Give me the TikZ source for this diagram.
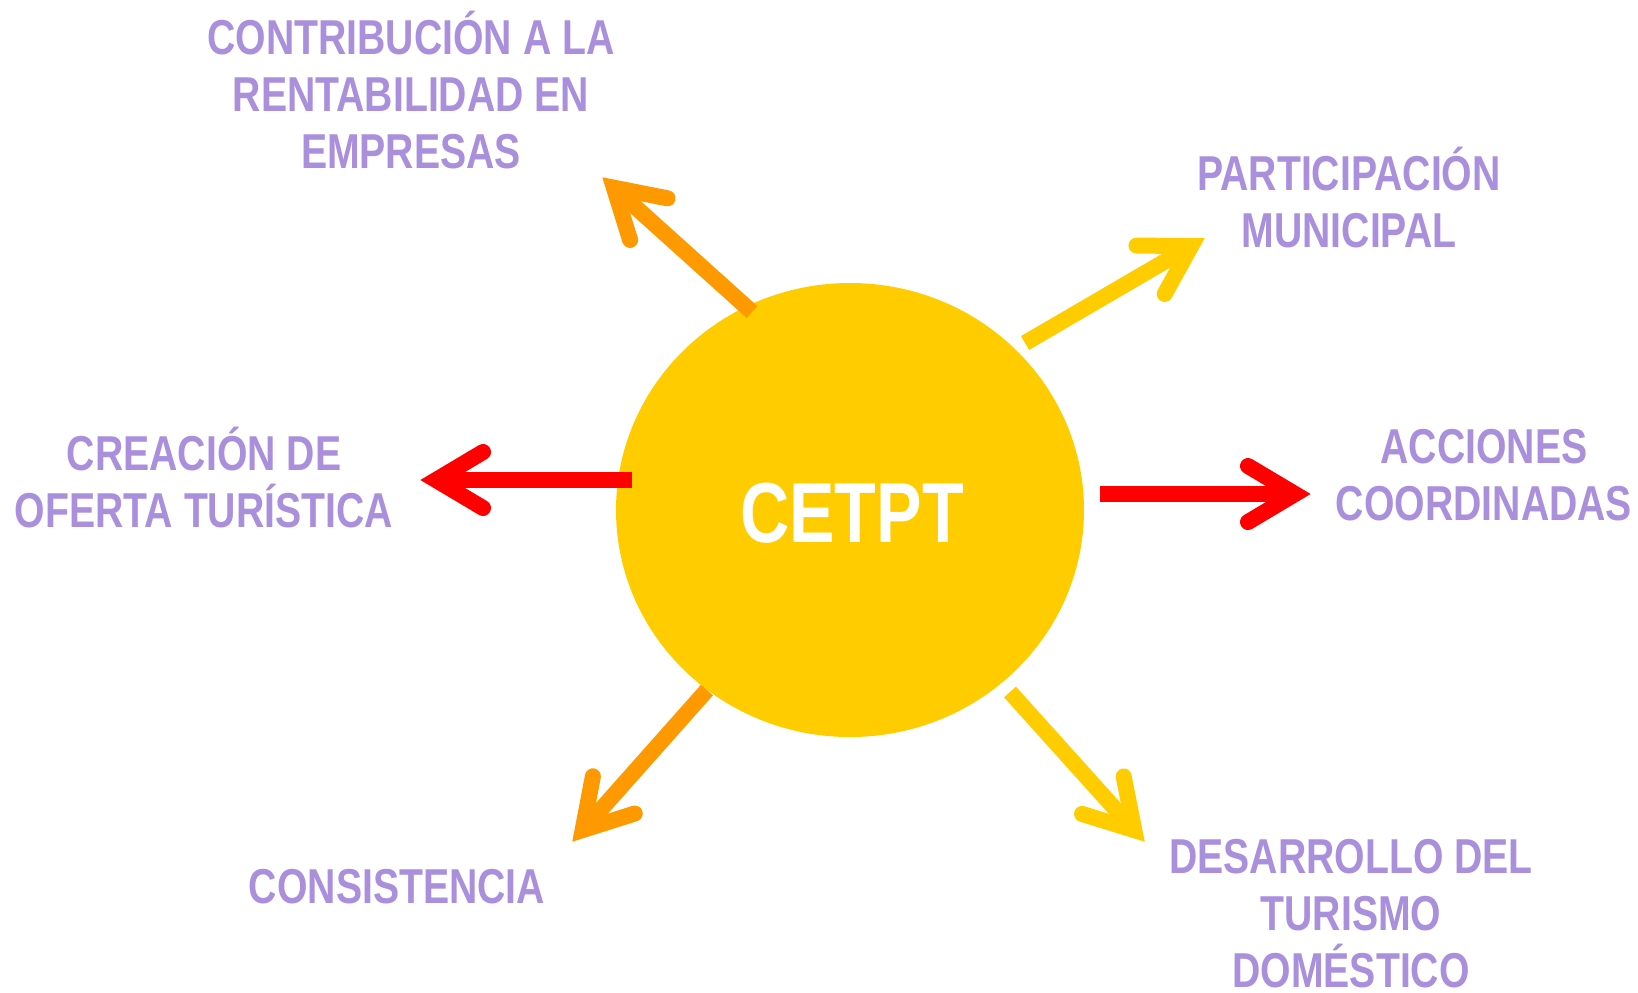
\documentclass[tikz,border=0pt]{standalone}
\usepackage{fontspec}
\newfontfamily\lblfont[FakeStretch=0.8]{Liberation Sans}
\usetikzlibrary{calc}
\definecolor{lav}{RGB}{169,143,220}
\definecolor{sun}{RGB}{255,204,0}
\definecolor{orng}{RGB}{255,153,0}
\definecolor{rd}{RGB}{255,0,0}
\newcommand\fatarrow[3]{%
  \draw[line width=8pt,#1] (#2) -- ($(#3)!8pt!(#2)$);
  \path ($(#3)!8pt!(#2)$) coordinate (V) ($(V)!23.5pt!(#2)$) coordinate (B);
  \draw[line width=8pt,#1,line cap=round,line join=miter,miter limit=10]
    ($(B)!14pt!90:(V)$) -- (V) -- ($(B)!14pt!-90:(V)$);
}
\begin{document}
\begin{tikzpicture}[x=0.5pt,y=-0.5pt,
  lbl/.style={text=lav,font=\lblfont\bfseries\fontsize{24.5}{28.5}\selectfont,align=center,inner sep=0pt,anchor=base}]
\useasboundingbox (0,0) rectangle (1638,992);
\fill[sun] (850,510) ellipse [x radius=234, y radius=227];
\node[inner sep=0pt,anchor=base,text=white,font=\lblfont\bfseries\fontsize{42.6}{48}\selectfont] (c) at (852,542) {CETPT};

\node[lbl] (n1) at (411,168) {CONTRIBUCIÓN A LA\\RENTABILIDAD EN\\EMPRESAS};
\node[lbl] (n2) at (1349,247) {PARTICIPACIÓN\\MUNICIPAL};
\node[lbl] (n3) at (1484,520) {ACCIONES\\COORDINADAS};
\node[lbl] (n4) at (204,527) {CREACIÓN DE\\OFERTA TURÍSTICA};
\node[lbl] (n5) at (397,903) {CONSISTENCIA};
\node[lbl] (n6) at (1351,987) {DESARROLLO DEL\\TURISMO\\DOMÉSTICO};

\coordinate (s1) at (752,312); \coordinate (t1) at (602,177);
\coordinate (s2) at (1025,343); \coordinate (t2) at (1205,238);
\coordinate (s3) at (632,480); \coordinate (t3) at (420,480);
\coordinate (s4) at (1100,494); \coordinate (t4) at (1311,494);
\coordinate (s5) at (707,690); \coordinate (t5) at (572,842);
\coordinate (s6) at (1010,692); \coordinate (t6) at (1145,842);

\fatarrow{orng}{s1}{t1}
\fatarrow{sun}{s2}{t2}
\fatarrow{rd}{s3}{t3}
\fatarrow{rd}{s4}{t4}
\fatarrow{orng}{s5}{t5}
\fatarrow{sun}{s6}{t6}
\end{tikzpicture}
\end{document}
